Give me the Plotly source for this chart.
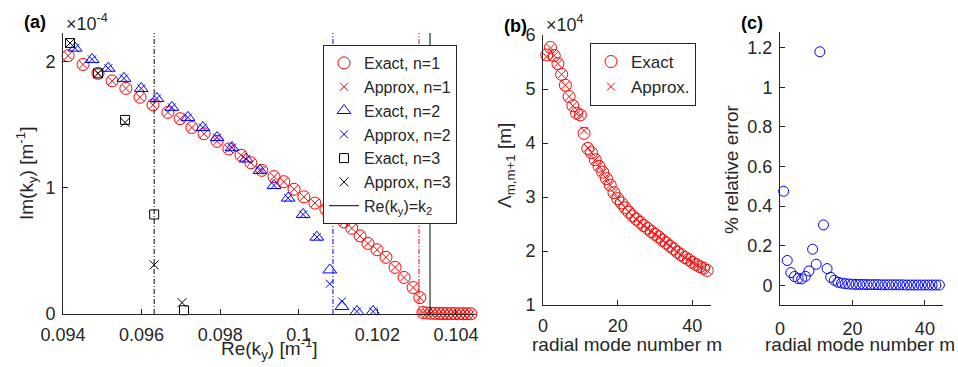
import plotly.graph_objects as go

W, H = 958, 367
FONT = "Liberation Sans, Arial, Helvetica, sans-serif"
AX = "#262626"

# ---------------- panel (a) data : Re(ky) [1/m], Im(ky) in units of 1e-4 [1/m]
re_n1 = [0.09413, 0.09451, 0.09489, 0.09525, 0.09560, 0.09596, 0.09629, 0.09667, 0.09698, 0.09728,
         0.09759, 0.09792, 0.09822, 0.09853, 0.09878, 0.09906, 0.09937, 0.09962, 0.09988, 0.10013,
         0.10041, 0.10069, 0.10092, 0.10115, 0.10135, 0.10156, 0.10176, 0.10199, 0.10222, 0.10245,
         0.10268, 0.10291, 0.10308, 0.10316, 0.10326, 0.10336, 0.10346, 0.10357, 0.10367, 0.10377,
         0.10387, 0.10397, 0.10408, 0.10418, 0.10428, 0.10438]
im_n1_exact = [2.05, 1.98, 1.91, 1.85, 1.79, 1.72, 1.66, 1.60, 1.55, 1.48,
               1.43, 1.37, 1.31, 1.26, 1.20, 1.14, 1.09, 1.05, 0.99, 0.93,
               0.88, 0.83, 0.79, 0.73, 0.68, 0.62, 0.56, 0.51, 0.45, 0.37,
               0.29, 0.21, 0.13, 0.012, 0.008, 0.006, 0.005, 0.004, 0.004, 0.003,
               0.003, 0.003, 0.002, 0.002, 0.002, 0.002]
im_n1_approx = list(im_n1_exact)

re_n2 = [0.09431, 0.09474, 0.09515, 0.09555, 0.09599, 0.09639, 0.09677, 0.09718, 0.09756, 0.09792,
         0.09830, 0.09866, 0.09901, 0.09937, 0.09973, 0.10011, 0.10046, 0.10079, 0.10110, 0.10148,
         0.10189]
im_n2_exact = [2.11, 2.02, 1.95, 1.87, 1.79, 1.71, 1.64, 1.56, 1.48, 1.40,
               1.32, 1.23, 1.14, 1.02, 0.92, 0.79, 0.61, 0.35, 0.06, 0.02,
               0.02]
im_n2_approx = [2.11, 2.02, 1.95, 1.87, 1.79, 1.71, 1.64, 1.56, 1.48, 1.40,
                1.32, 1.23, 1.14, 1.02, 0.92, 0.79, 0.61, 0.24, 0.10, 0.02,
                0.02]

re_n3_exact = [0.09418, 0.09489, 0.09558, 0.09632, 0.09708]
im_n3_exact = [2.15, 1.91, 1.54, 0.79, 0.03]
re_n3_approx = [0.09418, 0.09489, 0.09558, 0.09632, 0.09703]
im_n3_approx = [2.15, 1.91, 1.52, 0.39, 0.09]

k_cut_n1 = 0.10306   # red dash-dot
k_cut_n2 = 0.10087   # blue dash-dot
k_cut_n3 = 0.09632   # black dash-dot
k2 = 0.10334         # black solid
im_top = 2.23

xticks_a = [0.094, 0.096, 0.098, 0.1, 0.102, 0.104]
xticklabels_a = ["0.094", "0.096", "0.098", "0.1", "0.102", "0.104"]
yticks_a = [0, 1, 2]

# ---------------- panel (b) data : Lambda in units of 1e4 m
m_modes = list(range(1, 45))
lam_exact = [5.63, 5.77, 5.62, 5.47, 5.27, 5.07, 4.86, 4.69, 4.55, 4.52,
             4.18, 3.90, 3.82, 3.69, 3.57, 3.46, 3.34, 3.22, 3.08, 2.97,
             2.89, 2.80, 2.72, 2.65, 2.59, 2.53, 2.47, 2.42, 2.36, 2.31,
             2.26, 2.20, 2.15, 2.09, 2.04, 1.98, 1.93, 1.88, 1.84, 1.79,
             1.75, 1.71, 1.68, 1.64]
lam_approx = [5.60, 5.76, 5.62, 5.47, 5.27, 5.07, 4.86, 4.69, 4.54, 4.52,
              4.23, 3.91, 3.82, 3.69, 3.57, 3.46, 3.34, 3.22, 3.08, 2.97,
              2.89, 2.80, 2.72, 2.65, 2.59, 2.53, 2.47, 2.42, 2.36, 2.31,
              2.26, 2.20, 2.15, 2.09, 2.04, 1.98, 1.93, 1.88, 1.84, 1.79,
              1.75, 1.71, 1.68, 1.64]

# ---------------- panel (c) data : % relative error
rel_err = [0.475, 0.125, 0.064, 0.044, 0.034, 0.032, 0.045, 0.072, 0.182, 0.106,
           1.18, 0.305, 0.084, 0.040, 0.025, 0.015, 0.011, 0.008, 0.006, 0.005,
           0.004, 0.004, 0.004, 0.003, 0.003, 0.003, 0.003, 0.002, 0.002, 0.002,
           0.002, 0.002, 0.002, 0.002, 0.001, 0.001, 0.001, 0.001, 0.001, 0.001,
           0.001, 0.001, 0.001, 0.001]

RED, BLUE, BLACK = "rgb(255,0,0)", "rgb(0,0,255)", "rgb(0,0,0)"

fig = go.Figure()


def mk(symbol, color, size):
    return dict(symbol=symbol, color=color, size=size, line=dict(color=color, width=1))


# vertical reference lines (panel a)
for k, col in [(k_cut_n3, BLACK), (k_cut_n2, BLUE), (k_cut_n1, RED)]:
    fig.add_trace(go.Scatter(x=[k, k], y=[0, im_top], mode="lines",
                             line=dict(color=col, width=1, dash="5px,2px,1px,2px"),
                             showlegend=False, hoverinfo="skip", xaxis="x", yaxis="y"))

series_a = [
    ("Exact, n=1", re_n1, im_n1_exact, mk("circle-open", RED, 12)),
    ("Approx, n=1", re_n1, im_n1_approx, mk("x-thin-open", RED, 8)),
    ("Exact, n=2", re_n2, im_n2_exact, mk("triangle-up-open", BLUE, 12)),
    ("Approx, n=2", re_n2, im_n2_approx, mk("x-thin-open", BLUE, 8)),
    ("Exact, n=3", re_n3_exact, im_n3_exact, mk("square-open", BLACK, 9)),
    ("Approx, n=3", re_n3_approx, im_n3_approx, mk("x-thin-open", BLACK, 9)),
]
for i, (name, xs, ys, marker) in enumerate(series_a):
    fig.add_trace(go.Scatter(x=xs, y=ys, mode="markers", name=name, marker=marker,
                             cliponaxis=False, legendrank=i + 1, xaxis="x", yaxis="y",
                             legend="legend"))

fig.add_trace(go.Scatter(x=[k2, k2], y=[0, im_top], mode="lines",
                         name="Re(k<sub>y</sub>)=k<sub>2</sub>",
                         line=dict(color=BLACK, width=1), legendrank=7,
                         xaxis="x", yaxis="y", legend="legend"))

# panel (b)
fig.add_trace(go.Scatter(x=m_modes, y=lam_exact, mode="markers", name="Exact",
                         marker=mk("circle-open", RED, 12), cliponaxis=False,
                         xaxis="x2", yaxis="y2", legend="legend2"))
fig.add_trace(go.Scatter(x=m_modes, y=lam_approx, mode="markers", name="Approx.",
                         marker=mk("x-thin-open", RED, 8), cliponaxis=False,
                         xaxis="x2", yaxis="y2", legend="legend2"))

# panel (c)
fig.add_trace(go.Scatter(x=m_modes, y=rel_err, mode="markers", name="error",
                         marker=mk("circle-open", BLUE, 10), cliponaxis=False,
                         showlegend=False, xaxis="x3", yaxis="y3"))

axis_common = dict(showline=True, linecolor=AX, linewidth=1, ticks="inside", ticklen=5,
                   tickcolor=AX, tickwidth=1, showgrid=False, zeroline=False, mirror=False,
                   automargin=False, tickfont=dict(family=FONT, size=18, color=AX))


def px(x):
    return x / W


def py(y):
    return 1 - y / H


fig.update_layout(
    template="none",
    width=W, height=H, autosize=False, margin=dict(l=0, r=0, t=0, b=0, pad=0),
    paper_bgcolor="white", plot_bgcolor="white",
    font=dict(family=FONT, color=AX),
    xaxis=dict(domain=[px(63), px(475.6)], range=[0.094, 0.1045], anchor="y",
               tickvals=xticks_a, ticktext=xticklabels_a, ticklabelstandoff=4, **axis_common),
    yaxis=dict(domain=[py(314), py(33)], range=[0, im_top], anchor="x",
               tickvals=yticks_a, ticklabelstandoff=3, **axis_common),
    xaxis2=dict(domain=[px(543), px(711)], range=[0, 45], anchor="y2",
                tickvals=[0, 20, 40], ticklabelstandoff=4, **axis_common),
    yaxis2=dict(domain=[py(305), py(35)], range=[1, 6], anchor="x2",
                tickvals=[1, 2, 3, 4, 5, 6], ticklabelstandoff=3, **axis_common),
    xaxis3=dict(domain=[px(780), px(943)], range=[0, 45], anchor="y3",
                tickvals=[0, 20, 40], ticklabelstandoff=7, **axis_common),
    yaxis3=dict(domain=[py(305), py(32)], range=[-0.1, 1.28], anchor="x3",
                tickvals=[0, 0.2, 0.4, 0.6, 0.8, 1, 1.2],
                ticktext=["0", "0.2", "0.4", "0.6", "0.8", "1", "1.2"],
                ticklabelstandoff=3, **axis_common),
    legend=dict(x=px(323), y=py(45), xanchor="left", yanchor="top",
                bgcolor="white", bordercolor=AX, borderwidth=1,
                font=dict(family=FONT, size=16, color=AX), tracegroupgap=0,
                traceorder="normal"),
    legend2=dict(x=px(590), y=py(43), xanchor="left", yanchor="top",
                 bgcolor="white", bordercolor=AX, borderwidth=1,
                 font=dict(family=FONT, size=17, color=AX)),
)

ann = []


def text(x, y, s, size=18, angle=0, xanchor="center", bold=False):
    ann.append(dict(x=px(x), y=py(y), xref="paper", yref="paper", text=("<b>%s</b>" % s) if bold else s,
                    showarrow=False, textangle=angle, xanchor=xanchor, yanchor="middle",
                    font=dict(family=FONT, size=size, color=AX if not bold else "black")))


text(35, 22, "(a)", 18, bold=True)
text(64, 22, "×10<sup>-4</sup>", 18, xanchor="left")
text(515, 26, "(b)", 18, bold=True)
text(544, 24, "×10<sup>4</sup>", 18, xanchor="left")
text(752, 23, "(c)", 18, bold=True)

text(269, 348, "Re(k<sub>y</sub>) [m<sup>-1</sup>]", 19)
text(627, 344, "radial mode number m", 19)
text(860, 344, "radial mode number m", 19)

text(26, 174, "Im(k<sub>y</sub>) [m<sup>-1</sup>]", 19, angle=-90)
text(506, 166, "Λ<sub>m,m+1</sub> [m]", 19, angle=-90)
text(732, 170, "% relative error", 19, angle=-90)

fig.update_layout(annotations=ann)

fig.write_html("out.html",
               config={"displayModeBar": False, "staticPlot": True},
               post_script="document.body.style.margin='0';document.body.style.overflow='hidden';")
